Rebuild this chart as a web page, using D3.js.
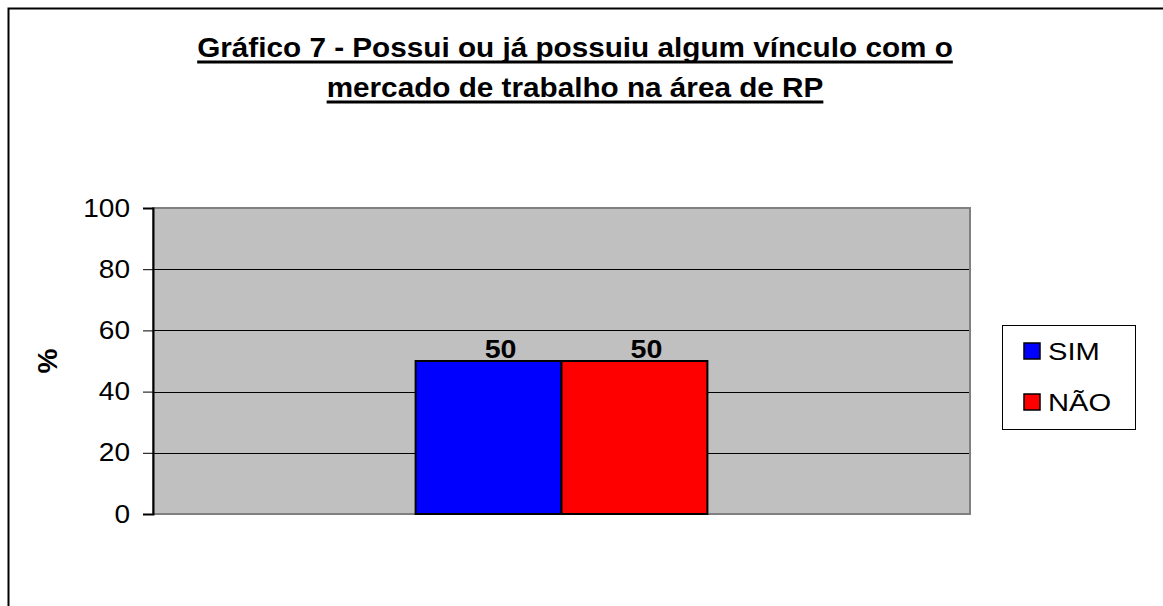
<!DOCTYPE html>
<html>
<head>
<meta charset="utf-8">
<script src="https://cdn.jsdelivr.net/npm/d3@7"></script>
<style>
  html, body { margin: 0; padding: 0; background: #fff; }
  svg { display: block; font-family: "Liberation Sans", Arial, sans-serif; }
</style>
</head>
<body>
<svg id="chart" width="1163" height="606"></svg>
<script>
// chart data
const categories = [''];
const seriesNames = ['SIM', 'NÃO'];
const seriesValues = [[50], [50]];
const seriesColors = ['#0000ff', '#ff0000'];
const yTicks = [0, 20, 40, 60, 80, 100];
const titleLines = ['Gráfico 7 - Possui ou já possuiu algum vínculo com o', 'mercado de trabalho na área de RP'];

const svg = d3.select('#chart');
const width = 1163;
const height = 606;
const margin = { top: 208, right: 193, bottom: 92, left: 153 };
const plotRight = width - margin.right;
const plotBottom = height - margin.bottom;

// the original picture has its text a little wider than normal Arial
const stretch = { title: 1.1, tick: 1.1, label: 1.1, legend: 1.24 };

// outer frame (only left and top are visible)
svg.append('rect')
  .attr('x', 8.5).attr('y', 8.5)
  .attr('width', width + 20).attr('height', height + 20)
  .attr('fill', '#fff').attr('stroke', '#000').attr('stroke-width', 2);

// title
titleLines.forEach((t, i) => {
  const by = 57 + i * 40;
  const g = svg.append('g')
    .attr('transform', `translate(575,${by}) scale(${stretch.title},1)`);
  const txt = g.append('text')
    .attr('text-anchor', 'middle')
    .attr('font-size', 27)
    .attr('font-weight', 'bold')
    .text(t);
  const bb = txt.node().getBBox();
  g.append('line')
    .attr('x1', bb.x).attr('x2', bb.x + bb.width)
    .attr('y1', 5).attr('y2', 5)
    .attr('stroke', '#000').attr('stroke-width', 3);
});

const y = d3.scaleLinear().domain([0, 100]).range([plotBottom, margin.top]);

const x0 = d3.scaleBand()
  .domain(categories)
  .range([margin.left, plotRight])
  .paddingInner(0)
  .paddingOuter(0.9);

const x1 = d3.scaleBand()
  .domain(seriesNames)
  .range([0, x0.bandwidth()]);

// plot area
svg.append('rect')
  .attr('x', margin.left).attr('y', margin.top)
  .attr('width', plotRight - margin.left)
  .attr('height', plotBottom - margin.top)
  .attr('fill', '#c0c0c0');

// gridlines
svg.append('g')
  .selectAll('line')
  .data(yTicks.filter((d) => d > 0 && d < 100))
  .enter()
  .append('line')
  .attr('x1', margin.left).attr('x2', plotRight)
  .attr('y1', (d) => Math.round(y(d)) + 0.5)
  .attr('y2', (d) => Math.round(y(d)) + 0.5)
  .attr('stroke', '#000').attr('stroke-width', 1);

// plot border
svg.append('rect')
  .attr('x', margin.left).attr('y', margin.top)
  .attr('width', plotRight - margin.left)
  .attr('height', plotBottom - margin.top)
  .attr('fill', 'none')
  .attr('stroke', '#808080').attr('stroke-width', 2);

// bars
const barData = [];
categories.forEach((c, ci) => {
  seriesNames.forEach((s, si) => {
    barData.push({ cat: c, series: s, value: seriesValues[si][ci], color: seriesColors[si] });
  });
});

svg.append('g')
  .selectAll('rect')
  .data(barData)
  .enter()
  .append('rect')
  .attr('x', (d) => x0(d.cat) + x1(d.series))
  .attr('y', (d) => y(d.value))
  .attr('width', x1.bandwidth())
  .attr('height', (d) => plotBottom - y(d.value))
  .attr('fill', (d) => d.color)
  .attr('stroke', '#000')
  .attr('stroke-width', 2);

// value labels (sit a bit right of the bar centre, as in the original)
svg.append('g')
  .selectAll('g')
  .data(barData)
  .enter()
  .append('g')
  .attr('transform', (d) =>
    `translate(${x0(d.cat) + x1(d.series) + x1.bandwidth() / 2 + 12},${y(d.value) - 3}) scale(${stretch.label},1)`)
  .append('text')
  .attr('text-anchor', 'middle')
  .attr('font-size', 26)
  .attr('font-weight', 'bold')
  .text((d) => d.value);

// y axis
const yAxis = d3.axisLeft(y)
  .tickValues(yTicks)
  .tickSize(10)
  .tickPadding(23);

const gy = svg.append('g')
  .attr('transform', `translate(${margin.left},0)`)
  .call(yAxis);
gy.select('.domain').attr('stroke', '#000').attr('stroke-width', 2);
gy.selectAll('.tick line').attr('stroke', '#000');
gy.selectAll('.tick text')
  .attr('font-size', 25.5)
  .attr('font-family', '"Liberation Sans", Arial, sans-serif')
  .attr('fill', '#000')
  .attr('transform', `scale(${stretch.tick},1)`)
  .attr('x', -23 / stretch.tick);

// y axis title
svg.append('text')
  .attr('transform', `translate(57,${y(50)}) rotate(-90)`)
  .attr('text-anchor', 'middle')
  .attr('font-size', 28)
  .attr('font-weight', 'bold')
  .text('%');

// legend
const legend = svg.append('g').attr('transform', 'translate(1002,325)');
legend.append('rect')
  .attr('x', 0.5).attr('y', 0.5)
  .attr('width', 133).attr('height', 104)
  .attr('fill', '#fff').attr('stroke', '#000').attr('stroke-width', 1);

const items = legend.selectAll('g.item')
  .data(seriesNames)
  .enter()
  .append('g')
  .attr('class', 'item')
  .attr('transform', (d, i) => `translate(22,${18 + i * 51})`);

items.append('rect')
  .attr('width', 16).attr('height', 16)
  .attr('fill', (d, i) => seriesColors[i])
  .attr('stroke', '#000').attr('stroke-width', 1.5);

items.append('g')
  .attr('transform', `translate(24,17) scale(${stretch.legend},1)`)
  .append('text')
  .attr('font-size', 23.5)
  .text((d) => d);
</script>
</body>
</html>
